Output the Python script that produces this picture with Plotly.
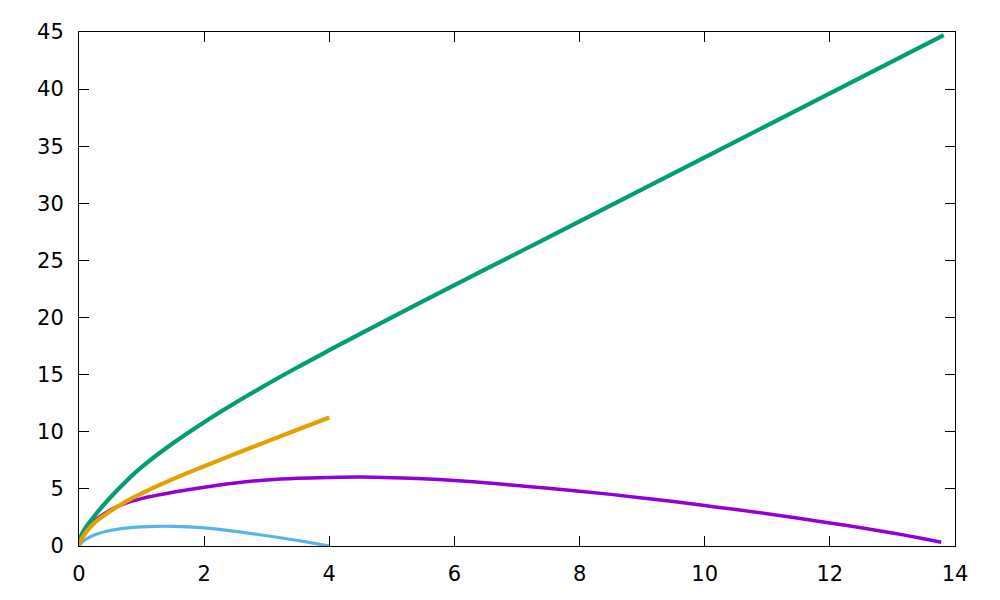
import plotly.graph_objects as go

# Series
purple_x = [0, 0.05, 0.1, 0.25, 0.5, 0.75, 1.0, 1.5, 2.0, 2.5, 3.0, 3.5, 4.0, 4.5, 5.0, 5.5, 6.0, 6.5,
            7.0, 7.5, 8.0, 8.5, 9.0, 9.5, 10.0, 10.5, 11.0, 11.5, 12.0, 12.5, 13.0, 13.5, 13.78]
purple_y = [0, 0.8, 1.3, 2.2, 3.15, 3.75, 4.15, 4.7, 5.15, 5.52, 5.78, 5.93, 6.0, 6.03, 5.98, 5.88, 5.73, 5.53,
            5.29, 5.05, 4.8, 4.52, 4.21, 3.89, 3.54, 3.19, 2.82, 2.43, 2.02, 1.59, 1.14, 0.64, 0.33]

green_x = [0, 0.05, 0.25, 0.5, 0.75, 1.0, 1.5, 2.0, 2.5, 3.0, 3.5, 4.0, 4.5, 5.0, 5.5, 6.0, 6.5, 7.0, 7.5,
           8.0, 8.5, 9.0, 9.5, 10.0, 10.5, 11.0, 11.5, 12.0, 12.5, 13.0, 13.5, 13.82]
green_y = [0, 1.1, 2.65, 4.25, 5.65, 6.9, 8.99, 10.84, 12.54, 14.14, 15.67, 17.14, 18.59, 20.02, 21.43, 22.83, 24.23, 25.63, 27.03,
           28.43, 29.83, 31.23, 32.63, 34.03, 35.43, 36.83, 38.23, 39.63, 41.03, 42.43, 43.83, 44.73]

blue_x = [0, 0.05, 0.1, 0.25, 0.5, 0.75, 1.0, 1.25, 1.5, 2.0, 2.5, 3.0, 3.5, 4.0]
blue_y = [0, 0.35, 0.55, 0.98, 1.36, 1.56, 1.67, 1.72, 1.72, 1.58, 1.28, 0.9, 0.48, 0]

orange_x = [0, 0.05, 0.12, 0.25, 0.5, 0.75, 1.0, 1.5, 2.0, 2.5, 3.0, 3.5, 4.0]
orange_y = [0, 0.7, 1.26, 2.05, 3.05, 3.88, 4.6, 5.85, 6.98, 8.07, 9.14, 10.2, 11.25]

x_ticks = [0, 2, 4, 6, 8, 10, 12, 14]
y_ticks = [0, 5, 10, 15, 20, 25, 30, 35, 40, 45]

fig = go.Figure()
series = [
    (purple_x, purple_y, "#9400d3", 3.5),
    (green_x, green_y, "#009e73", 4.2),
    (blue_x, blue_y, "#56b4e9", 3.2),
    (orange_x, orange_y, "#e69f00", 4.2),
]
for xs, ys, col, w in series:
    fig.add_trace(go.Scatter(x=xs, y=ys, mode="lines",
                             line=dict(color=col, width=w, shape="spline", smoothing=1.0),
                             showlegend=False, hoverinfo="skip"))

axis_common = dict(showline=True, linecolor="black", linewidth=1, mirror="ticks",
                   ticks="inside", ticklen=10, tickcolor="black", tickwidth=1,
                   showgrid=False, zeroline=False,
                   tickfont=dict(family="DejaVu Sans", size=21, color="black"))

fig.update_xaxes(range=[0, 14], tickvals=x_ticks, ticktext=[str(v) for v in x_ticks],
                 ticklabelstandoff=9, **axis_common)
fig.update_yaxes(range=[0, 45], tickvals=y_ticks, ticktext=[str(v) for v in y_ticks],
                 ticklabelstandoff=10, **axis_common)

fig.update_layout(width=992, height=592, plot_bgcolor="white", paper_bgcolor="white",
                  margin=dict(l=71, r=45, t=19, b=54), showlegend=False)

fig.write_html("out.html")
